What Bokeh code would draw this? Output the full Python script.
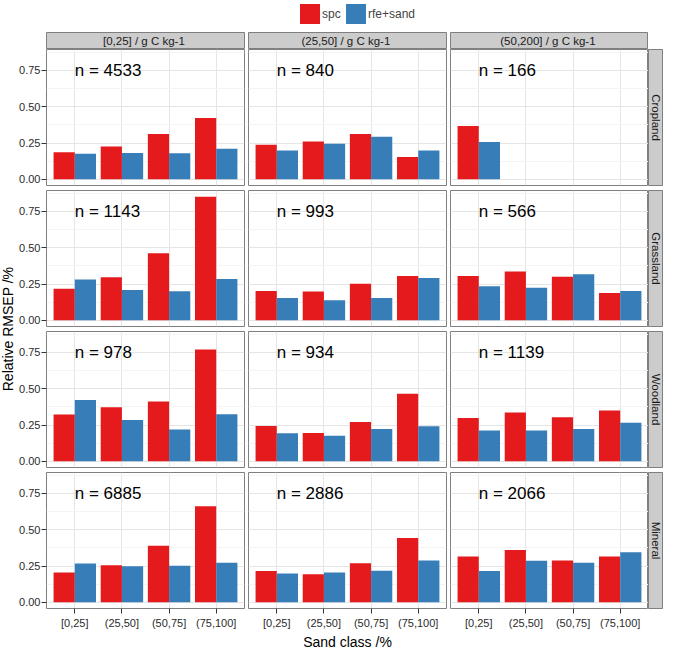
from bokeh.plotting import figure
from bokeh.models import (ColumnDataSource, FactorRange, Range1d, FixedTicker,
                          PrintfTickFormatter, GridBox, Legend, LegendItem)
from bokeh.layouts import column
from bokeh.transform import dodge
from bokeh.core.properties import value
from bokeh.embed import file_html
from bokeh.resources import INLINE
import math

sand = ["[0,25]", "(25,50]", "(50,75]", "(75,100]"]
soc = ["[0,25]", "(25,50]", "(50,200]"]
landuse = ["Cropland", "Grassland", "Woodland", "Mineral"]

n_obs = {
    "Cropland": [4533, 840, 166],
    "Grassland": [1143, 993, 566],
    "Woodland": [978, 934, 1139],
    "Mineral": [6885, 2886, 2066],
}

# relative RMSEP, one list per soc class (sand classes in order), None = no data
spc = {
    "Cropland": [[0.186, 0.227, 0.312, 0.422],
                 [0.238, 0.260, 0.312, 0.153],
                 [0.368, None, None, None]],
    "Grassland": [[0.218, 0.297, 0.463, 0.852],
                  [0.202, 0.198, 0.252, 0.306],
                  [0.306, 0.337, 0.301, 0.189]],
    "Woodland": [[0.323, 0.372, 0.413, 0.770],
                 [0.244, 0.195, 0.271, 0.466],
                 [0.298, 0.336, 0.303, 0.350]],
    "Mineral": [[0.205, 0.255, 0.390, 0.662],
                [0.216, 0.194, 0.270, 0.444],
                [0.315, 0.360, 0.288, 0.315]],
}
rfe_sand = {
    "Cropland": [[0.177, 0.182, 0.180, 0.211],
                 [0.198, 0.245, 0.294, 0.198],
                 [0.258, None, None, None]],
    "Grassland": [[0.281, 0.209, 0.200, 0.285],
                  [0.153, 0.139, 0.153, 0.292],
                  [0.234, 0.225, 0.317, 0.202]],
    "Woodland": [[0.422, 0.285, 0.220, 0.325],
                 [0.193, 0.177, 0.222, 0.242],
                 [0.213, 0.213, 0.222, 0.265]],
    "Mineral": [[0.268, 0.248, 0.252, 0.273],
                [0.198, 0.205, 0.218, 0.288],
                [0.216, 0.286, 0.273, 0.345]],
}

y_ticks = [0, 0.25, 0.5, 0.75]
y_minor = [0.125, 0.375, 0.625, 0.875]

RED = "#E41A1C"
BLUE = "#377EB8"
FONT = "Liberation Sans"
FW, FH = 198, 136      # panel frame size
GAP = 5                # gap between panel rows
COLGAP = 4
LEFT = 28              # room for y tick labels
BOT = 38               # room for x tick labels + title
STRIP = 17
YLAB = 16

ymax = max(max(v for v in row if v is not None)
           for d in (spc, rfe_sand) for rows in d.values() for row in rows)
pad = ymax * 0.05


def panel(i, j):
    lu = landuse[i]
    left = j == 0
    bottom = i == len(landuse) - 1
    p = figure(x_range=FactorRange(factors=sand, range_padding=0.1,
                                   range_padding_units="absolute"),
               y_range=Range1d(-pad, ymax + pad),
               frame_width=FW, frame_height=FH,
               output_backend="svg", toolbar_location=None,
               min_border_left=LEFT if left else 0,
               min_border_right=COLGAP if j < 2 else 0,
               min_border_top=0,
               min_border_bottom=BOT if bottom else GAP)
    p.outline_line_color = "#7F7F7F"
    p.outline_line_width = 1
    p.background_fill_color = "white"

    xs, a, b = [], [], []
    for k, s in enumerate(sand):
        if spc[lu][j][k] is None:
            continue
        xs.append(s)
        a.append(spc[lu][j][k])
        b.append(rfe_sand[lu][j][k])
    src = ColumnDataSource(data=dict(sand=xs, spc=a, rfe=b))
    p.vbar(x=dodge("sand", -0.225, range=p.x_range), top="spc", bottom=0,
           width=0.45, fill_color=RED, line_color=None, source=src)
    p.vbar(x=dodge("sand", 0.225, range=p.x_range), top="rfe", bottom=0,
           width=0.45, fill_color=BLUE, line_color=None, source=src)

    p.text(x=[sand[0]], y=[0.75], text=["n = %d" % n_obs[lu][j]],
           text_align="left", text_baseline="middle",
           text_font=value(FONT), text_font_size="17px", text_color="#000000")

    ticker = FixedTicker(ticks=y_ticks, minor_ticks=y_minor)
    p.yaxis.ticker = ticker
    p.ygrid.ticker = ticker
    p.yaxis.formatter = PrintfTickFormatter(format="%.2f")
    p.xgrid.grid_line_color = "#E5E5E5"
    p.ygrid.grid_line_color = "#E5E5E5"
    p.ygrid.minor_grid_line_color = "#F4F4F4"

    for ax in (p.xaxis, p.yaxis):
        ax.axis_line_color = None
        ax.major_tick_line_color = "#333333"
        ax.major_tick_out = 5
        ax.major_tick_in = 0
        ax.minor_tick_out = 0
        ax.minor_tick_in = 0
        ax.major_label_text_font = FONT
        ax.major_label_text_font_size = "11px"
        ax.major_label_text_color = "#2B2B2B"
    p.yaxis.major_label_standoff = 1
    p.xaxis.major_label_standoff = 3
    p.yaxis.visible = left
    p.xaxis.visible = bottom
    if bottom and j == 1:
        p.xaxis.axis_label = "Sand class /%"
        p.xaxis.axis_label_text_font = FONT
        p.xaxis.axis_label_text_font_size = "14px"
        p.xaxis.axis_label_text_font_style = "normal"
        p.xaxis.axis_label_text_color = "#000000"
        p.xaxis.axis_label_standoff = 2
    return p


def strip(label, w, h, angle, left=0, right=0, bottom=0):
    s = figure(x_range=Range1d(0, 1), y_range=Range1d(0, 1),
               frame_width=w, frame_height=h,
               output_backend="svg", toolbar_location=None,
               x_axis_location=None, y_axis_location=None,
               min_border_left=left, min_border_right=right,
               min_border_top=0, min_border_bottom=bottom)
    s.grid.grid_line_color = None
    s.background_fill_color = "#CCCCCC"
    s.outline_line_color = "#7F7F7F"
    s.text(x=[0.5], y=[0.5], text=[label], angle=angle,
           text_align="center", text_baseline="middle",
           text_font=value(FONT), text_font_size="11.5px", text_color="#1A1A1A")
    return s


cells = []
for j, c in enumerate(soc):
    cells.append((strip(c + "  / g C kg-1", FW, STRIP, 0,
                        left=LEFT if j == 0 else 0,
                        right=COLGAP if j < 2 else 0), 0, j + 1))
for i, lu in enumerate(landuse):
    for j in range(len(soc)):
        cells.append((panel(i, j), i + 1, j + 1))
    cells.append((strip(lu, 15, FH, -math.pi / 2, bottom=GAP), i + 1, 4))

# y axis title spanning the panel rows
yl = figure(x_range=Range1d(0, 1), y_range=Range1d(0, 1),
            frame_width=YLAB, frame_height=4 * FH + 3 * GAP,
            output_backend="svg", toolbar_location=None,
            x_axis_location=None, y_axis_location=None, min_border=0)
yl.grid.grid_line_color = None
yl.outline_line_color = None
yl.text(x=[0.45], y=[0.5], text=["Relative RMSEP /%"], angle=math.pi / 2,
        text_align="center", text_baseline="middle",
        text_font=value(FONT), text_font_size="14px", text_color="#000000")
cells.append((yl, 1, 0, 4, 1))

grid = GridBox(children=cells)

# legend on top (dummy bars kept outside the visible range)
hdr = figure(x_range=Range1d(0, 1), y_range=Range1d(0, 1),
             width=662, height=32, output_backend="svg", toolbar_location=None,
             x_axis_location=None, y_axis_location=None, min_border=0)
hdr.grid.grid_line_color = None
hdr.outline_line_color = None
r1 = hdr.vbar(x=[-5], top=[-4], bottom=-5, width=0.1, fill_color=RED, line_color=None)
r2 = hdr.vbar(x=[-5], top=[-4], bottom=-5, width=0.1, fill_color=BLUE, line_color=None)
legend = Legend(items=[LegendItem(label="spc", renderers=[r1]),
                       LegendItem(label="rfe+sand", renderers=[r2])],
                orientation="horizontal", location=(297, 6),
                glyph_width=25, glyph_height=25, label_standoff=0,
                spacing=1, padding=0, margin=0,
                border_line_color=None, background_fill_alpha=0,
                label_text_font=FONT, label_text_font_size="12px")
hdr.add_layout(legend)

p = column(hdr, grid)

open("out.html", "w").write(file_html(p, INLINE))
